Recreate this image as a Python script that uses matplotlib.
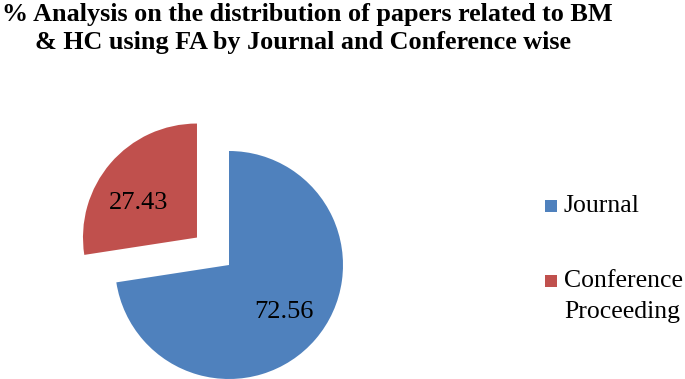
import matplotlib.pyplot as plt
from matplotlib.patches import Rectangle

# data
labels = ["Journal", "Conference\nProceeding"]
values = [72.56, 27.43]
valueText = ["72.56", "27.43"]
colors = ["#4F81BD", "#C0504D"]

W, H = 685, 379
fig = plt.figure(figsize=(W/100, H/100), dpi=100)
plt.rcParams['font.family'] = ['Liberation Serif', 'DejaVu Serif']

# pie centre at pixel (229, 265), radius 114 px
cx, cy, R = 229, 265, 114
ax = fig.add_axes([0, 0, 1, 1])

txt = iter(valueText)
wedges, _, autotexts = ax.pie(values, colors=colors, startangle=90, counterclock=False,
                              explode=[0, 0.37], autopct=lambda p: next(txt),
                              pctdistance=0.63, radius=1, frame=True,
                              textprops={'fontsize': 19})
ax.set_aspect('auto')
ax.set_xlim(-cx/R, (W-cx)/R)
ax.set_ylim(-(H-cy)/R, cy/R)
ax.axis('off')

# nudge the red label a little lower / left, like the original
x, y = autotexts[1].get_position()
autotexts[1].set_position((x - 4/R, y - 12/R))

# title (two lines, left set)
fig.text(2/W, 1-15/H, "% Analysis on the distribution of papers related to BM",
         fontsize=18.8, fontweight='bold', va='center', ha='left')
fig.text(35/W, 1-43/H, "& HC using FA by Journal and Conference wise",
         fontsize=18.8, fontweight='bold', va='center', ha='left')

# legend, drawn by hand so the square sits on the first line
legY = [206, 281]
for i in range(len(labels)):
    y = legY[i]
    fig.patches.append(Rectangle((545/W, 1-(y+6)/H), 12/W, 12/H, transform=fig.transFigure,
                                 facecolor=colors[i], edgecolor='none'))
    lines = labels[i].split("\n")
    for j, l in enumerate(lines):
        fig.text(564/W, 1-(y+j*31)/H, l, fontsize=18.5, va='center', ha='left')

fig.savefig("out.png", dpi=100)
